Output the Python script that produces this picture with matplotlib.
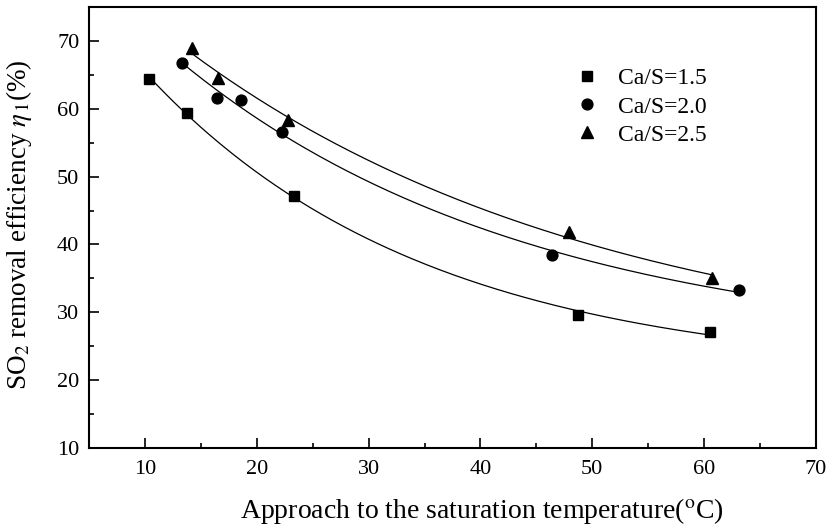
import numpy as np
import matplotlib
matplotlib.use("Agg")
import matplotlib.pyplot as plt
from matplotlib.ticker import MultipleLocator

plt.rcParams['font.family'] = ['Liberation Serif', 'DejaVu Serif']
plt.rcParams['mathtext.fontset'] = 'stix'

# Data
x15 = [10.4, 13.75, 23.3, 48.7, 60.5]
y15 = [64.4, 59.45, 47.1, 29.6, 27.1]
x20 = [13.3, 16.4, 18.6, 22.25, 46.4, 63.1]
y20 = [66.8, 61.6, 61.3, 56.6, 38.4, 33.3]
x25 = [14.25, 16.5, 22.8, 47.9, 60.7]
y25 = [69.0, 64.6, 58.3, 41.8, 35.0]
labels = ['Ca/S=1.5', 'Ca/S=2.0', 'Ca/S=2.5']
markers = ['s', 'o', '^']


def exp_fit(x, y):
    x = np.asarray(x, float); y = np.asarray(y, float)
    best = None
    for t in np.linspace(5, 80, 400):
        A = np.vstack([np.ones_like(x), np.exp(-x / t)]).T
        coef, res, *_ = np.linalg.lstsq(A, y, rcond=None)
        r = np.sum((A @ coef - y) ** 2)
        if best is None or r < best[0]:
            best = (r, t, coef)
    _, t, coef = best
    xs = np.linspace(x.min(), x.max(), 200)
    return xs, coef[0] + coef[1] * np.exp(-xs / t)


fig = plt.figure(figsize=(8.3, 5.27), dpi=100)
ax = fig.add_axes([89 / 830, 1 - 448 / 527, (816 - 89) / 830, (448 - 7) / 527])

msizes = [7.2, 7.8, 8.5]
for (x, y), lab, m, ms in zip([(x15, y15), (x20, y20), (x25, y25)], labels, markers, msizes):
    xs, ys = exp_fit(x, y)
    ax.plot(xs, ys, color='black', lw=0.9)
    ax.plot(x, y, linestyle='none', marker=m, color='black', markersize=ms, label=lab)

ax.set_xlim(5, 70)
ax.set_ylim(10, 75)
ax.xaxis.set_major_locator(MultipleLocator(10))
ax.xaxis.set_minor_locator(MultipleLocator(5))
ax.yaxis.set_major_locator(MultipleLocator(10))
ax.yaxis.set_minor_locator(MultipleLocator(5))
ax.tick_params(which='both', direction='in', top=False, right=False, labelsize=16, width=1.2)
ax.tick_params(which='major', length=7)
ax.tick_params(axis='x', which='major', pad=9)
ax.tick_params(axis='y', which='major', pad=7)
ax.tick_params(which='minor', length=3.5)
for s in ax.spines.values():
    s.set_linewidth(1.5)

ax.set_xlabel('Approach to the saturation temperature($^{\\rm o}$C)', fontsize=20)
ax.set_ylabel('SO$_2$ removal efficiency $\\eta_{\\,1}$(%)', fontsize=19.5)
ax.xaxis.set_label_coords((482 - 89) / (816 - 89), -(496 - 448) / 441)
ax.yaxis.set_label_coords(-(89 - 34) / 727, (448 - 225) / 441)

ax.legend(loc='upper left', bbox_to_anchor=(0.632, 0.91), frameon=False, fontsize=17,
          handletextpad=0.55, labelspacing=0.28, handlelength=1.5)

fig.savefig('out.png', dpi=100)
